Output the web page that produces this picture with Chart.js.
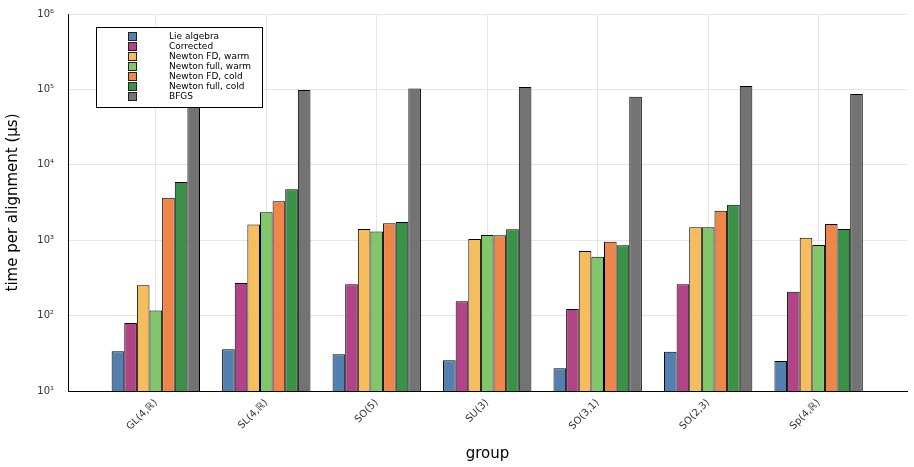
<!DOCTYPE html>
<html>
<head>
<meta charset="utf-8">
<script src="https://cdn.jsdelivr.net/npm/chart.js@4"></script>
<style>
html,body{margin:0;padding:0;background:#fff}
</style>
</head>
<body>
<canvas id="timingChart" width="914" height="467"></canvas>
<script>
const groups = ["GL(4,ℝ)", "SL(4,ℝ)", "SO(5)", "SU(3)", "SO(3,1)", "SO(2,3)", "Sp(4,ℝ)"]
const seriesNames = ["Lie algebra", "Corrected", "Newton FD, warm", "Newton full, warm", "Newton FD, cold", "Newton full, cold", "BFGS"]
const lieAlgebra = [33.6, 35.7, 30.7, 25.5, 20.0, 33.2, 25.0]
const corrected = [80, 270, 260, 155, 122, 260, 207]
const newtonFDWarm = [252, 1610, 1410, 1040, 720, 1480, 1080]
const newtonFullWarm = [117, 2350, 1300, 1170, 604, 1480, 863]
const newtonFDCold = [3660, 3280, 1675, 1160, 955, 2460, 1640]
const newtonFullCold = [5920, 4730, 1740, 1400, 855, 2960, 1410]
const bfgs = [95000, 98000, 103000, 108000, 80000, 111000, 86900]
const yTicks = [10, 100, 1000, 10000, 100000, 1000000]

const colors = ["#5480b0", "#b04486", "#f6bd5e", "#82c66b", "#ee8649", "#3a9147", "#737373"]
const allSeries = [lieAlgebra, corrected, newtonFDWarm, newtonFullWarm, newtonFDCold, newtonFullCold, bfgs]

const sup = {"0":"⁰","1":"¹","2":"²","3":"³","4":"⁴","5":"⁵","6":"⁶","7":"⁷","8":"⁸","9":"⁹"}

// legend drawn inside the plot, on top of the bars
const insideLegend = {
  id: "insideLegend",
  afterDraw(chart){
    const ctx = chart.ctx
    ctx.save()
    ctx.fillStyle = "#fff"
    ctx.fillRect(96, 27, 166, 80)
    ctx.strokeStyle = "#000"
    ctx.lineWidth = 1
    ctx.strokeRect(96.5, 27.5, 166, 80)
    ctx.font = "9px 'DejaVu Sans'"
    ctx.textBaseline = "middle"
    chart.data.datasets.forEach((ds, i) => {
      const y = 32 + i * 10
      ctx.fillStyle = ds.backgroundColor
      ctx.fillRect(128, y, 9, 9)
      ctx.strokeStyle = "#222"
      ctx.strokeRect(128.5, y + 0.5, 8, 8)
      ctx.fillStyle = "#000"
      ctx.fillText(ds.label, 169, y + 5)
    })
    ctx.restore()
  }
}

new Chart(document.getElementById("timingChart"), {
  type: "bar",
  data: {
    datasets: allSeries.map((vals, k) => ({
      label: seriesNames[k],
      data: vals.map((v, i) => ({x: i + 1, y: v})),
      backgroundColor: colors[k],
      borderColor: "#000",
      borderWidth: 1,
      barPercentage: 1,
      categoryPercentage: 0.8
    }))
  },
  options: {
    responsive: false,
    animation: false,
    layout: {padding: {left: 0, right: 7, top: 14, bottom: 0}},
    plugins: {legend: {display: false}, tooltip: {enabled: false}},
    scales: {
      x: {
        type: "linear",
        offset: false,
        min: 0.205,
        max: 7.8,
        afterBuildTicks: s => { s.ticks = groups.map((g, i) => ({value: i + 1})) },
        afterFit: s => { s.height = 76 },
        ticks: {
          callback: v => groups[v - 1],
          minRotation: 45,
          maxRotation: 45,
          padding: 6,
          color: "#333",
          font: {family: "DejaVu Sans", size: 10}
        },
        grid: {color: "#e6e6e6", drawTicks: false, offset: false},
        border: {color: "#000", width: 1},
        title: {display: true, text: "group", color: "#000", font: {family: "DejaVu Sans", size: 15}, padding: {top: 4}}
      },
      y: {
        type: "logarithmic",
        min: 10,
        max: 1000000,
        afterBuildTicks: s => { s.ticks = yTicks.map(v => ({value: v})) },
        afterFit: s => { s.width = 68; s.paddingTop = 0; s.paddingBottom = 0 },
        ticks: {
          callback: v => "10" + String(Math.round(Math.log10(v))).split("").map(c => sup[c]).join(""),
          padding: 14,
          color: "#333",
          font: {family: "DejaVu Sans", size: 10}
        },
        grid: {color: "#e6e6e6", drawTicks: false},
        border: {color: "#000", width: 1},
        title: {display: true, text: "time per alignment (μs)", color: "#000", font: {family: "DejaVu Sans", size: 15}, padding: {bottom: 0}}
      }
    }
  },
  plugins: [insideLegend]
})
</script>
</body>
</html>
